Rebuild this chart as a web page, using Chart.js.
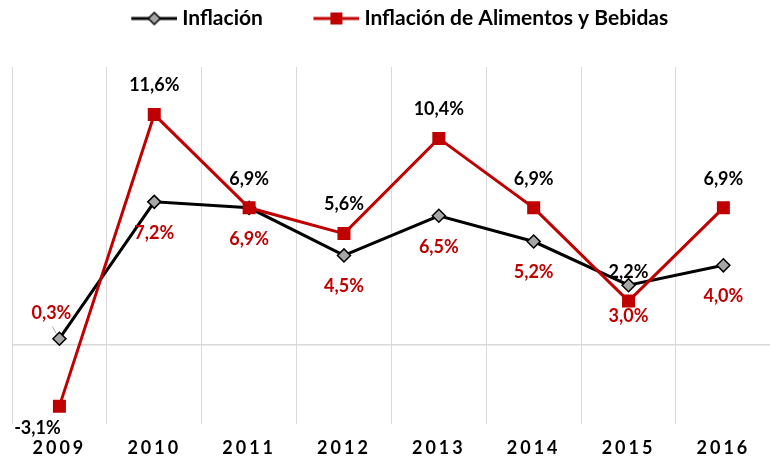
<!DOCTYPE html>
<html><head><meta charset="utf-8">
<script src="https://cdn.jsdelivr.net/npm/chart.js@4.4.0/dist/chart.umd.min.js"></script>
<style>
html,body{margin:0;padding:0;overflow:hidden;background:#fff;width:770px;height:459px;position:relative}
#wrap{position:absolute;left:0;top:0;width:780px;height:459px}
#c{display:block;width:780px;height:459px;max-width:none}
</style></head>
<body><div id="wrap"><canvas id="c" width="780" height="459"></canvas></div>
<script>
// ---- data ----
const years = ['2009','2010','2011','2012','2013','2014','2015','2016'];
const inflacion = [0.3, 7.2, 6.9, 4.5, 6.5, 5.2, 3.0, 4.0];
const alimentos = [-3.1, 11.6, 6.9, 5.6, 10.4, 6.9, 2.2, 6.9];
const seriesNames = ['Inflación', 'Inflación de Alimentos y Bebidas'];
// label placement per point
const inflLabelPlace = ['upleft','below','below','below','below','below','below','below'];
const alimLabelPlace = ['downleft','above','above','above','above','above','above','above'];

const FONT = 'Lato';
const RED = '#c00000';
const GRID = '#d9d9d9';

function legendIcon(kind){
  const c = document.createElement('canvas'); c.width = 57; c.height = 16;
  const g = c.getContext('2d');
  g.strokeStyle = kind === 'd' ? '#000' : RED; g.lineWidth = 3;
  g.beginPath(); g.moveTo(11,8); g.lineTo(57,8); g.stroke();
  if (kind === 'd') {
    g.beginPath(); g.moveTo(34,2); g.lineTo(40,8); g.lineTo(34,14); g.lineTo(28,8); g.closePath();
    g.fillStyle = '#a6a6a6'; g.fill(); g.lineWidth = 1.5; g.strokeStyle = '#000'; g.stroke();
  } else {
    g.fillStyle = RED; g.fillRect(28,2,12,12);
  }
  return c;
}
const icons = [legendIcon('d'), legendIcon('s')];

const fmt = v => v.toFixed(1).replace('.', ',') + '%';

const labelPlugin = {
  id: 'vals',
  afterDatasetsDraw(chart) {
    const ctx = chart.ctx;
    ctx.save();
    ctx.font = 'bold 18px ' + FONT;
    ctx.textAlign = 'center';
    ctx.textBaseline = 'middle';
    chart.data.datasets.forEach((ds, di) => {
      const meta = chart.getDatasetMeta(di);
      const place = di === 0 ? inflLabelPlace : alimLabelPlace;
      ctx.fillStyle = di === 0 ? RED : '#000';
      meta.data.forEach((pt, i) => {
        let x = pt.x, y = pt.y;
        const p = place[i];
        if (p === 'above') y -= 29;
        else if (p === 'below') y += 31;
        else if (p === 'downleft') { x -= 22; y += 22; }
        else if (p === 'upleft') {
          ctx.save(); ctx.strokeStyle = '#a6a6a6'; ctx.lineWidth = 1;
          ctx.beginPath(); ctx.moveTo(x - 7, y - 12); ctx.lineTo(x - 3, y - 5); ctx.stroke(); ctx.restore();
          x -= 8; y -= 26;
        }
        ctx.fillText(fmt(ds.data[i]), x, y);
      });
    });
    ctx.restore();
  }
};

const patchPlugin = {
  id: 'patch',
  afterInit(chart) {
    const lg = chart.legend;
    if (lg && !lg._patched) {
      const f = lg.fit.bind(lg);
      lg.fit = function(){ f(); this.height = 67; };
      const d = lg.draw.bind(lg);
      lg.draw = function(){
        const c = this.ctx; c.save(); c.translate(0, -37); d(); c.restore();
      };
      lg._patched = true;
    }
  },
  beforeDraw(chart) {
    const s = chart.scales.x;
    if (s && !s._patched) {
      const orig = s.drawLabels.bind(s);
      s.drawLabels = function(a){
        const c = this.ctx; const prev = c.letterSpacing;
        c.letterSpacing = '3px'; orig(a); c.letterSpacing = prev || '0px';
      };
      s._patched = true;
    }
  }
};

new Chart(document.getElementById('c'), {
  type: 'line',
  data: {
    labels: years,
    datasets: [
      { label: seriesNames[0], data: inflacion, order: 1,
        borderColor: '#000', borderWidth: 3, tension: 0,
        pointStyle: 'rectRot', pointRadius: 6.5, pointBackgroundColor: '#a6a6a6',
        pointBorderColor: '#000', pointBorderWidth: 1.5 },
      { label: seriesNames[1], data: alimentos, order: 0,
        borderColor: RED, borderWidth: 3, tension: 0,
        pointStyle: 'rect', pointRadius: 9.2, pointBackgroundColor: RED,
        pointBorderColor: RED, pointBorderWidth: 0 }
    ]
  },
  options: {
    responsive: false, animation: false,
    layout: { padding: { left: 12, right: -2, top: 0, bottom: 0 } },
    plugins: {
      tooltip: { enabled: false },
      legend: {
        position: 'top',
        labels: {
          usePointStyle: true, pointStyleWidth: 46,
          font: { family: FONT, size: 21, weight: 'bold' }, color: '#000', padding: 45,
          sort: (a, b) => a.datasetIndex - b.datasetIndex,
          generateLabels(chart) {
            return chart.data.datasets.map((ds, i) => ({
              text: ds.label, pointStyle: icons[i], datasetIndex: i,
              fillStyle: 'transparent', strokeStyle: 'transparent', lineWidth: 0, fontColor: '#000'
            }));
          }
        }
      }
    },
    scales: {
      x: {
        offset: true,
        grid: { offset: true, color: GRID, lineWidth: 1, drawTicks: false },
        border: { display: false },
        ticks: { color: '#000', padding: 13, font: { family: FONT, size: 18, weight: 'bold' } },
        afterFit: s => { s.height = 35; }
      },
      y: {
        min: -4, max: 14,
        ticks: { display: false, stepSize: 2 },
        grid: { drawTicks: false, color: c => c.tick && c.tick.value === 0 ? GRID : 'rgba(0,0,0,0)', lineWidth: 1.5 },
        border: { display: false },
        afterFit: s => { s.width = 0; }
      }
    }
  },
  plugins: [labelPlugin, patchPlugin]
});
</script>
</body></html>
